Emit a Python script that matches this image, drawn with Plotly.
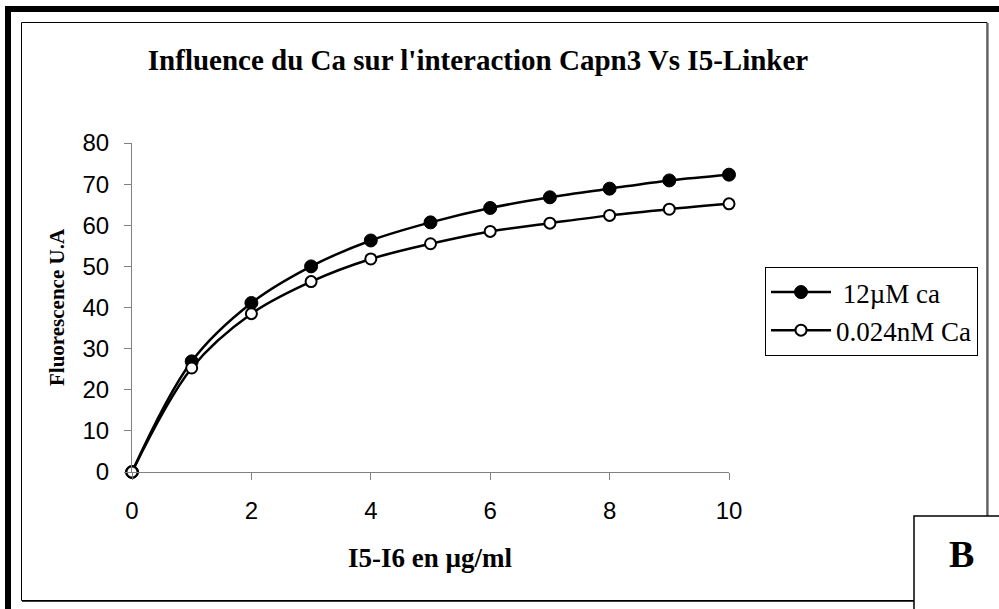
import plotly.graph_objects as go

# Concentration of I5-I6 (µg/ml)
conc = [0, 1, 2, 3, 4, 5, 6, 7, 8, 9, 10]
# Fluorescence readings (U.A) for both calcium conditions
fluo_12uM = [0, 26.9, 41.1, 50.0, 56.3, 60.7, 64.2, 66.8, 68.9, 70.9, 72.3]
fluo_0024nM = [0, 25.3, 38.5, 46.3, 51.8, 55.5, 58.5, 60.5, 62.4, 63.9, 65.2]

x_ticks = [0, 2, 4, 6, 8, 10]
y_ticks = [0, 10, 20, 30, 40, 50, 60, 70, 80]

W, H = 999, 609
ML, MR, MT, MB = 132, 270, 143, 137
PW, PH = W - ML - MR, H - MT - MB


def px(x):
    return (x - ML) / PW


def py(y):
    return (H - MB - y) / PH


SERIF = "Liberation Serif, Times New Roman, serif"
SANS = "Liberation Sans, Arial, sans-serif"

fig = go.Figure()
fig.add_trace(go.Scatter(
    x=conc, y=fluo_12uM, name=" 12µM ca", mode="lines+markers",
    line=dict(color="black", width=2.5, shape="spline", smoothing=1),
    marker=dict(symbol="circle", size=13, color="black",
                line=dict(color="black", width=1)),
    cliponaxis=False,
))
fig.add_trace(go.Scatter(
    x=conc, y=fluo_0024nM, name="0.024nM Ca", mode="lines+markers",
    line=dict(color="black", width=2.5, shape="spline", smoothing=1),
    marker=dict(symbol="circle", size=11, color="white",
                line=dict(color="black", width=2)),
    cliponaxis=False,
))

shapes = [
    # heavy outer frame (top and left)
    dict(type="rect", xref="paper", yref="paper",
         x0=px(8), x1=px(1020), y0=py(9), y1=py(630),
         line=dict(color="black", width=6), fillcolor="rgba(0,0,0,0)"),
    # inner chart frame
    dict(type="rect", xref="paper", yref="paper",
         x0=px(21.5), x1=px(987), y0=py(22.5), y1=py(600.5),
         line=dict(color="black", width=1), fillcolor="rgba(0,0,0,0)"),
    dict(type="line", xref="paper", yref="paper",
         x0=px(988), x1=px(988), y0=py(23), y1=py(602),
         line=dict(color="#404040", width=1)),
    dict(type="line", xref="paper", yref="paper",
         x0=px(22), x1=px(988), y0=py(601.5), y1=py(601.5),
         line=dict(color="#404040", width=1)),
    # panel label box
    dict(type="rect", xref="paper", yref="paper",
         x0=px(914), x1=px(1020), y0=py(516), y1=py(630),
         line=dict(color="black", width=1.5), fillcolor="white"),
]

annotations = [
    dict(text="<b>Fluorescence U.A</b>", xref="paper", yref="paper",
         x=px(57), y=py(307), textangle=-90, showarrow=False,
         font=dict(family=SERIF, size=21, color="black"),
         xanchor="center", yanchor="middle"),
    dict(text="<b>I5-I6 en µg/ml</b>", xref="paper", yref="paper",
         x=px(430), y=py(558), showarrow=False,
         font=dict(family=SERIF, size=27, color="black"),
         xanchor="center", yanchor="middle"),
    dict(text="<b>B</b>", xref="paper", yref="paper",
         x=px(961), y=py(554), showarrow=False,
         font=dict(family=SERIF, size=38, color="black"),
         xanchor="center", yanchor="middle"),
]

fig.update_layout(
    width=W, height=H,
    margin=dict(l=ML, r=MR, t=MT, b=MB, autoexpand=False),
    paper_bgcolor="white", plot_bgcolor="rgba(0,0,0,0)",
    title=dict(text="<b>Influence du Ca sur l'interaction Capn3 Vs I5-Linker</b>",
               x=478 / W, y=1 - 60 / H, xref="container", yref="container",
               xanchor="center", yanchor="middle",
               font=dict(family=SERIF, size=29, color="black")),
    showlegend=True,
    legend=dict(x=px(765), y=py(267), xanchor="left", yanchor="top",
                bgcolor="white", bordercolor="black", borderwidth=1,
                font=dict(family=SERIF, size=27, color="black"),
                itemwidth=60, tracegroupgap=0),
    shapes=shapes,
    annotations=annotations,
    xaxis=dict(range=[0, 10], tickvals=x_ticks, ticks="outside", ticklen=7,
               tickcolor="#808080", showline=True, linecolor="#808080",
               linewidth=1, showgrid=False, zeroline=False,
               ticklabelstandoff=10,
               tickfont=dict(family=SANS, size=24, color="black")),
    yaxis=dict(range=[0, 80], tickvals=y_ticks, ticks="outside", ticklen=7,
               tickcolor="#808080", showline=True, linecolor="#808080",
               linewidth=1, showgrid=False, zeroline=False,
               ticklabelstandoff=10,
               tickfont=dict(family=SANS, size=24, color="black")),
)

fig.write_html("out.html")
